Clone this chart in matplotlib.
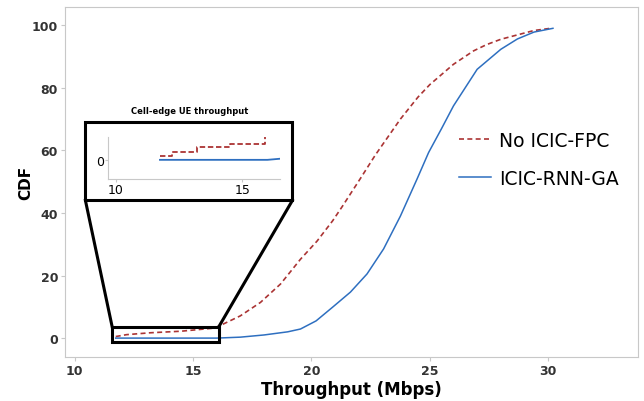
import matplotlib
matplotlib.use('Agg')
import matplotlib.pyplot as plt
from matplotlib.patches import Rectangle

fpc_x = [11.74, 12.2, 13.2, 14.5, 15.9, 16.2, 17.0, 17.85, 18.7, 19.54, 20.24, 20.9, 21.3,
         22.07, 22.7, 23.76, 24.5, 25.0, 26.0, 26.85, 27.4, 28.0, 29.4, 30.1]
fpc_y = [0.5, 1.1, 1.7, 2.2, 3.2, 4.2, 7.1, 11.4, 17.3, 25.2, 31.0, 37.5, 42.0,
         51.0, 58.5, 70.0, 77.0, 81.0, 87.5, 91.8, 93.8, 95.5, 98.3, 99.0]
rnn_x = [11.74, 13.0, 14.5, 16.0, 17.0, 18.0, 19.0, 19.54, 20.2, 20.9, 21.65, 22.35, 23.05,
         23.76, 24.46, 24.95, 25.5, 26.0, 27.0, 28.0, 28.7, 29.4, 30.2]
rnn_y = [0.0, 0.0, 0.0, 0.0, 0.3, 1.0, 2.0, 2.9, 5.5, 9.9, 14.7, 20.5, 28.5,
         39.0, 50.8, 59.3, 67.0, 74.2, 85.9, 92.3, 95.6, 97.8, 99.0]
labels = ['No ICIC-FPC', 'ICIC-RNN-GA']
xticks = [10, 15, 20, 25, 30]
yticks = [0, 20, 40, 60, 80, 100]

red = '#ab3434'
blue = '#2e6fc0'
grey = '#c8c8c8'

fig = plt.figure(figsize=(6.44, 4.02), dpi=100)
ax = fig.add_axes([0.101, 0.109, 0.890, 0.871])
ax.plot(fpc_x, fpc_y, color=red, linestyle=(0, (3, 2)), linewidth=1.2, label=labels[0])
ax.plot(rnn_x, rnn_y, color=blue, linewidth=1.1, label=labels[1])
ax.set_xlim(9.6, 33.8)
ax.set_ylim(-6.1, 105.8)
ax.set_xticks(xticks)
ax.set_yticks(yticks)
for s in ax.spines.values():
    s.set_color(grey)
ax.tick_params(colors='#333333', labelsize=9, length=3, color=grey, pad=2)
for t in ax.get_xticklabels() + ax.get_yticklabels():
    t.set_fontweight('semibold')
ax.set_xlabel('Throughput (Mbps)', fontsize=12, fontweight='bold', labelpad=2)
ax.set_ylabel('CDF', fontsize=11, fontweight='bold', labelpad=-1)

ax.legend(frameon=False, fontsize=13.5, loc='upper left',
          bbox_to_anchor=(442 / 644, 1 - 115 / 402), bbox_transform=fig.transFigure,
          handlelength=1.7, handletextpad=0.45, labelspacing=1.0)

# zoom box and connectors (main data coords)
ax.add_patch(Rectangle((11.59, -1.18), 4.5, 4.78, fill=False, edgecolor='black', linewidth=2.2, zorder=5))
ax.add_patch(Rectangle((10.46, 44.0), 8.74, 25.1, fill=False, edgecolor='black', linewidth=2.2, zorder=5))
ax.plot([10.46, 11.59], [44.0, 3.6], color='black', linewidth=2.2, zorder=5)
ax.plot([19.2, 16.09], [44.0, 3.6], color='black', linewidth=2.2, zorder=5)

# inset
axin = fig.add_axes([108 / 644, 1 - 180 / 402, 172 / 644, 42 / 402])
axin.plot(fpc_x, fpc_y, color=red, linestyle=(0, (3, 1.5)), linewidth=1.3, drawstyle='steps-post')
axin.plot(rnn_x, rnn_y, color=blue, linewidth=1.3)
axin.set_xlim(9.68, 16.5)
axin.set_ylim(-2.6, 3.1)
axin.set_xticks([10, 15])
axin.set_yticks([0])
axin.spines['top'].set_visible(False)
axin.spines['right'].set_visible(False)
axin.spines['left'].set_color(grey)
axin.spines['bottom'].set_color(grey)
axin.tick_params(labelsize=9, length=2, color=grey, pad=1)
axin.patch.set_alpha(0)
fig.text(190 / 644, 1 - 112 / 402, 'Cell-edge UE throughput', fontsize=6, fontweight='bold',
         ha='center', va='center')

fig.savefig('out.png', dpi=100)
